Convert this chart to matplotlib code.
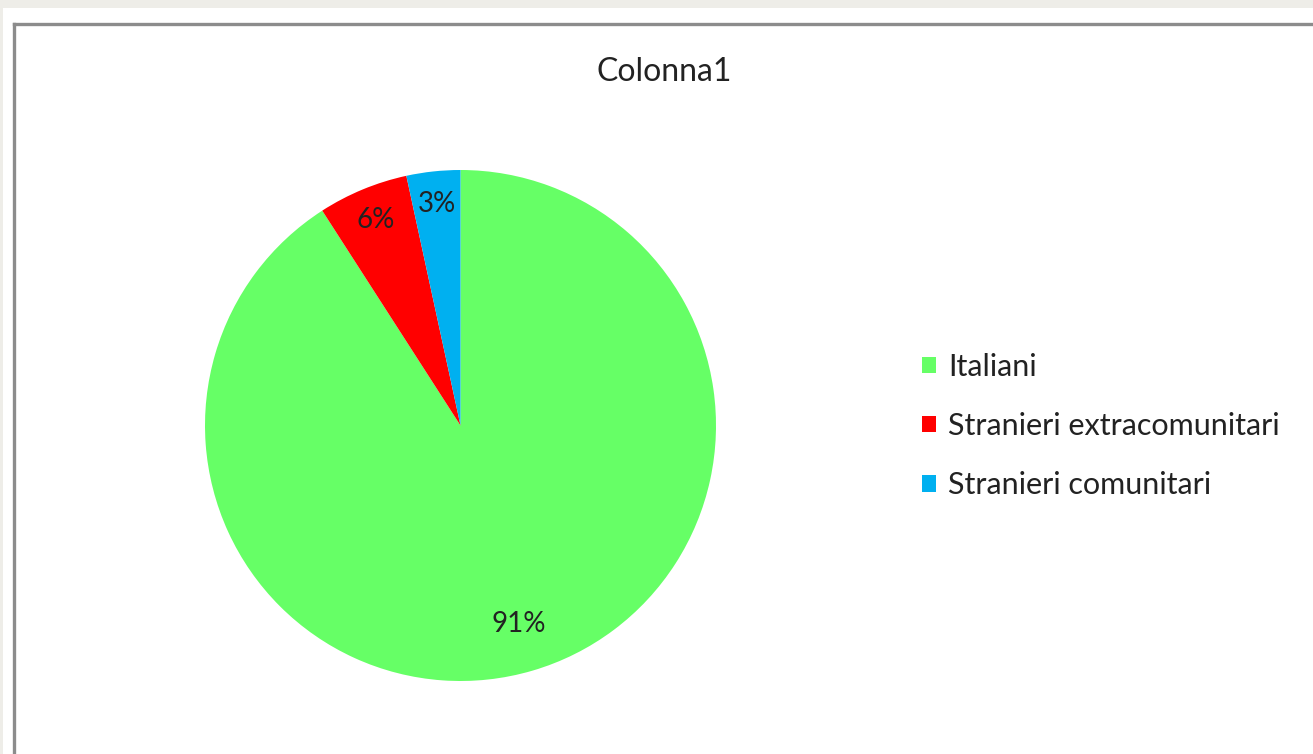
import matplotlib
matplotlib.use("Agg")
import matplotlib.pyplot as plt
from matplotlib.patches import Rectangle
from matplotlib.lines import Line2D

matplotlib.rcParams['font.family'] = ['Lato', 'DejaVu Sans']

TITLE = "Colonna1"
CATEGORIES = ["Italiani", "Stranieri extracomunitari", "Stranieri comunitari"]
VALUES = [90.9, 5.7, 3.4]
COLORS = ["#66ff66", "#ff0000", "#00b0f0"]
TEXT_COLOR = "#222222"

W, H = 1313, 754
fig = plt.figure(figsize=(W / 100, H / 100), dpi=100)
fig.patch.set_facecolor("white")

# outer frame: light grey strips + grey chart border
fig.patches.append(Rectangle((0, 1 - 8 / H), 1, 8 / H, transform=fig.transFigure,
                             facecolor="#eeede8", edgecolor="none", zorder=0))
fig.patches.append(Rectangle((0, 0), 3 / W, 1, transform=fig.transFigure,
                             facecolor="#eeede8", edgecolor="none", zorder=0))
fig.lines.append(Line2D([13.5 / W, 1], [1 - 23.5 / H, 1 - 23.5 / H], transform=fig.transFigure,
                        color="#8c8c8c", linewidth=2.4))
fig.lines.append(Line2D([13.5 / W, 13.5 / W], [0, 1 - 23.5 / H], transform=fig.transFigure,
                        color="#8c8c8c", linewidth=2.4))

# pie area: centre ~ (460, 425) px, radius ~ 256 px
cx, cy, r = 460.5, 425.5, 255.5
ax = fig.add_axes([(cx - r) / W, (H - cy - r) / H, 2 * r / W, 2 * r / H])
wedges, texts, autotexts = ax.pie(
    VALUES, colors=COLORS, startangle=90, counterclock=False, radius=1,
    autopct=lambda p: f"{p:.0f}%", pctdistance=0.87,
    textprops=dict(fontsize=20, color=TEXT_COLOR),
)
# the big slice label sits a little closer to the centre
x, y = autotexts[0].get_position()
autotexts[0].set_position((x * 0.81 / 0.87, y * 0.81 / 0.87))
ax.set_xlim(-1, 1)
ax.set_ylim(-1, 1)
ax.set_aspect("auto")
ax.axis("off")

fig.text(664 / W, 1 - 72 / H, TITLE, ha="center", va="center", fontsize=23, color=TEXT_COLOR)

fig.legend(wedges, CATEGORIES, loc="center left",
           bbox_to_anchor=(922 / W, 1 - 426 / H), frameon=False,
           borderpad=0, borderaxespad=0,
           fontsize=22, handlelength=0.46, handleheight=0.46, handletextpad=0.4,
           labelspacing=1.02, labelcolor=TEXT_COLOR)

fig.savefig("out.png", dpi=100)
